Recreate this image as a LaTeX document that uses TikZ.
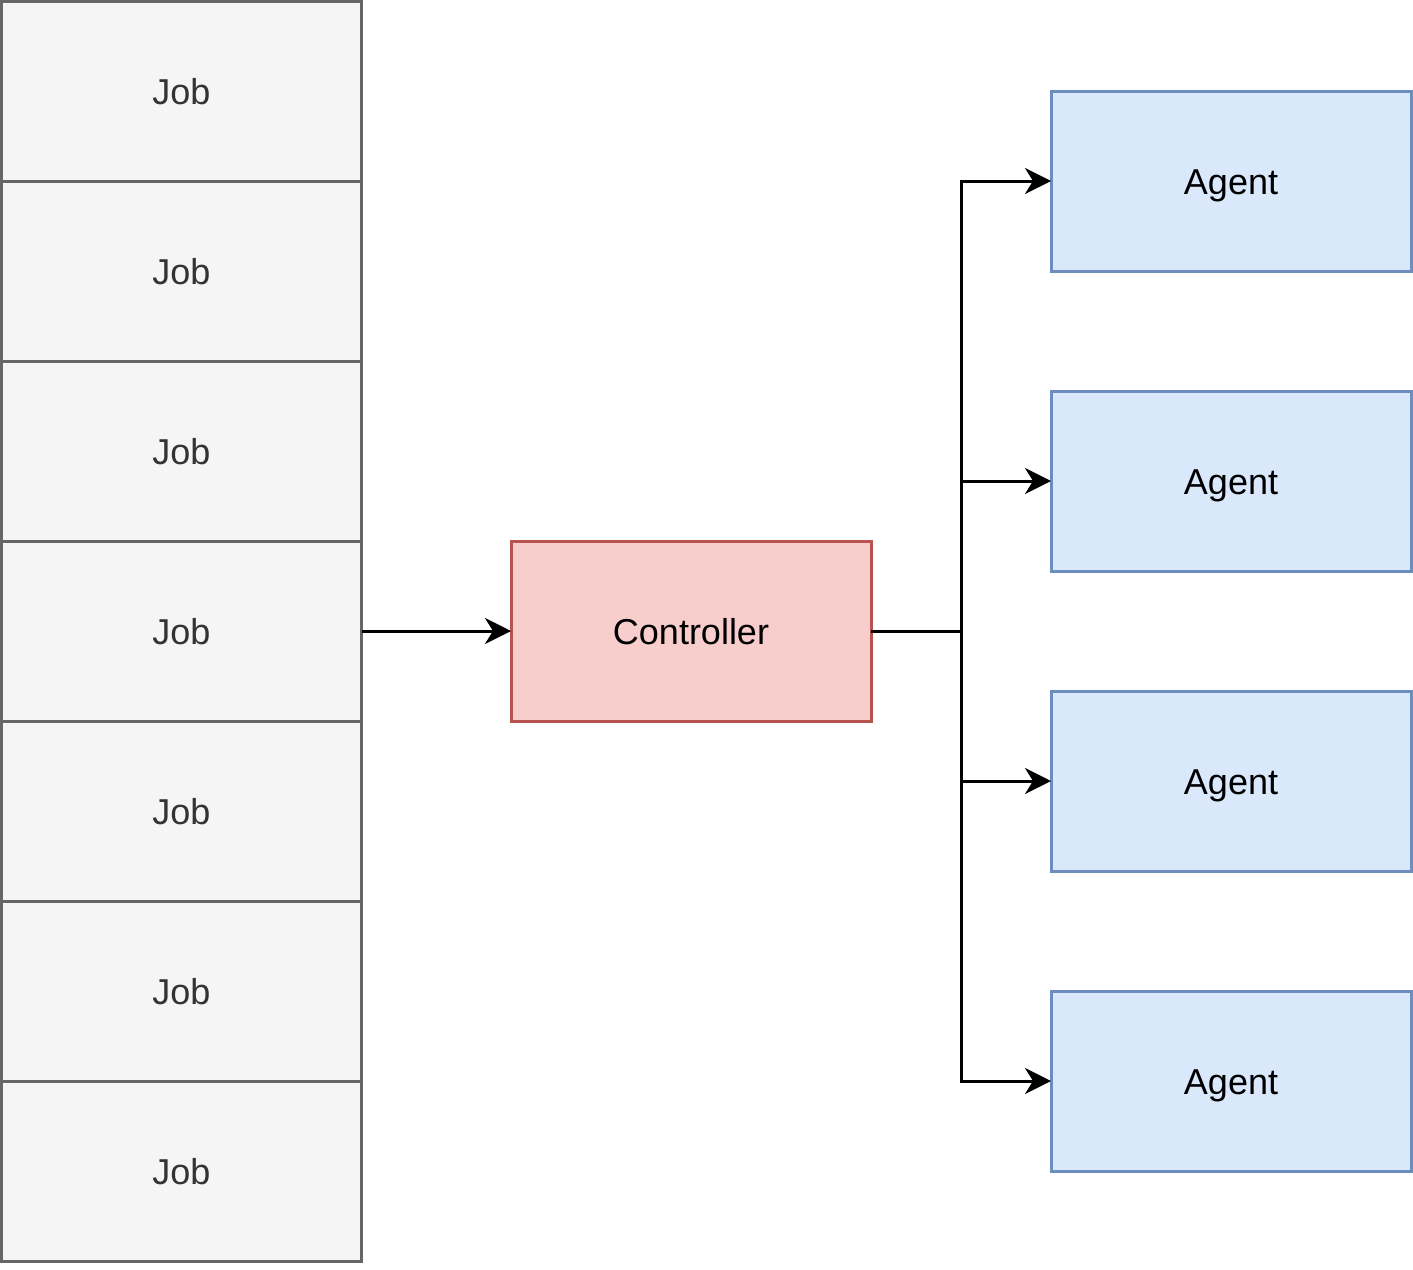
\documentclass[tikz,border=0pt]{standalone}
\usepackage{fontspec}
\setmainfont{Liberation Sans}
\usetikzlibrary{arrows.meta}
\definecolor{jobfill}{HTML}{F5F5F5}
\definecolor{jobdraw}{HTML}{666666}
\definecolor{jobtext}{HTML}{333333}
\definecolor{ctrlfill}{HTML}{F8CECC}
\definecolor{ctrldraw}{HTML}{B85450}
\definecolor{agfill}{HTML}{DAE8FC}
\definecolor{agdraw}{HTML}{6C8EBF}
\tikzset{
  box/.style={rectangle, line width=1.5pt, outer sep=0pt, minimum width=180pt, minimum height=90pt, inner sep=0pt, text height=13pt, text depth=0pt, font=\fontsize{18}{22}\selectfont, anchor=north west},
  jobbox/.style={box, fill=jobfill, draw=jobdraw, text=jobtext},
  ctrlbox/.style={box, fill=ctrlfill, draw=ctrldraw},
  agentbox/.style={box, fill=agfill, draw=agdraw},
  conn/.style={line width=1.5pt, -{Stealth[length=13pt, width=13pt, inset=4pt]}},
  plainconn/.style={line width=1.5pt}
}
\begin{document}
\begin{tikzpicture}[x=0.5pt, y=-0.5pt]
\useasboundingbox (0,0) rectangle (1413,1269);
\foreach \i in {0,...,6} {
  \node[jobbox] (job\i) at (1.5, 1+180*\i) {Job};
}
\node[ctrlbox] (ctrl) at (511,541) {Controller};
\node[agentbox] (ag1) at (1051,91) {Agent};
\node[agentbox] (ag2) at (1051,391) {Agent};
\node[agentbox] (ag3) at (1051,691) {Agent};
\node[agentbox] (ag4) at (1051,991) {Agent};
\coordinate (bus) at ([xshift=45pt]ctrl.east);
\draw[conn] (job3.east) -- (ctrl.west);
\draw[plainconn] (ctrl.east) -- (bus);
\draw[conn] (bus) |- (ag1.west);
\draw[conn] (bus) |- (ag2.west);
\draw[conn] (bus) |- (ag3.west);
\draw[conn] (bus) |- (ag4.west);
\end{tikzpicture}
\end{document}
